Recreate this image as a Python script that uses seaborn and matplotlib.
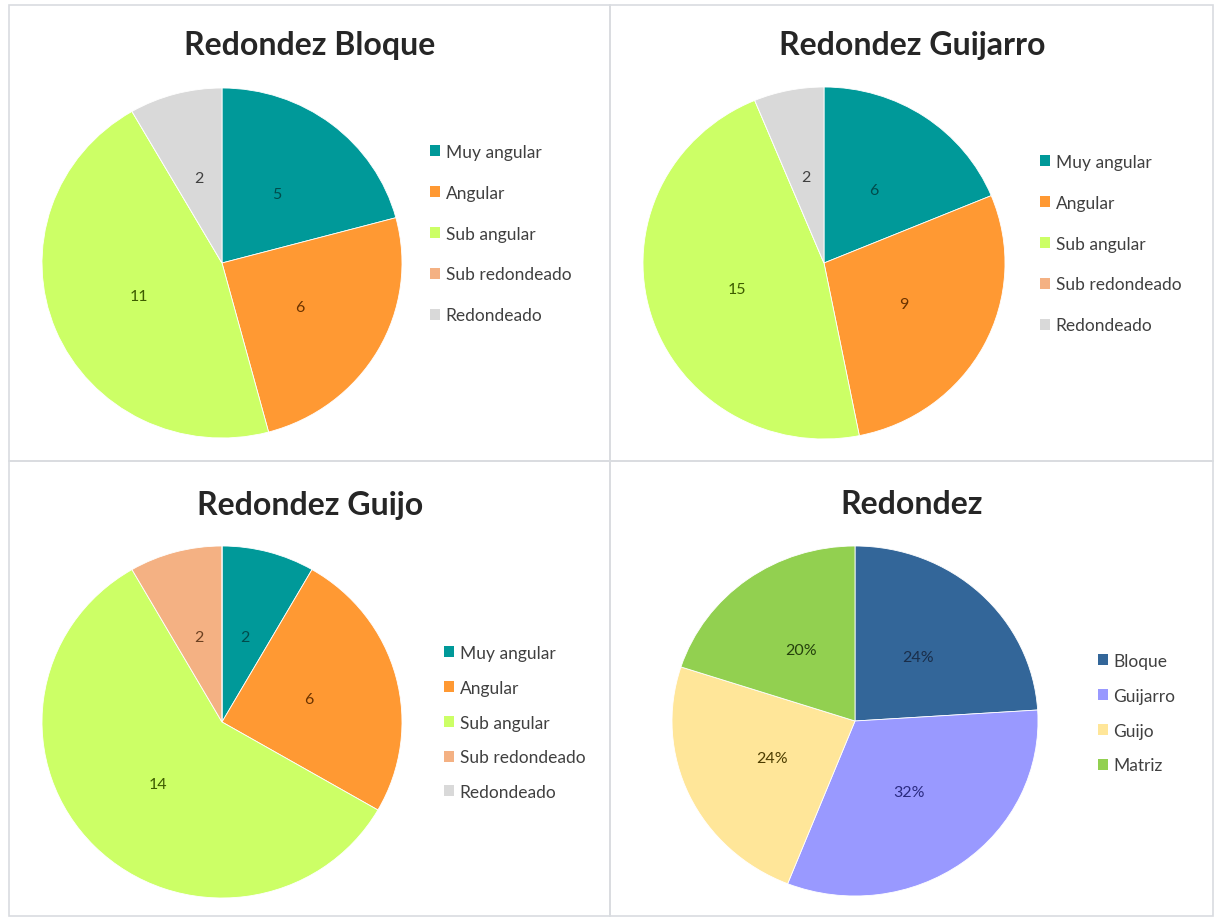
import matplotlib
matplotlib.use("Agg")
import matplotlib.pyplot as plt
import seaborn as sns
from matplotlib.patches import Rectangle

# ---------------- data ----------------
round_categories = ["Muy angular", "Angular", "Sub angular", "Sub redondeado", "Redondeado"]
bloque_values = [5, 6, 11, 0, 2]
guijarro_values = [6, 9, 15, 0, 2]
guijo_values = [2, 6, 14, 2, 0]

total_categories = ["Bloque", "Guijarro", "Guijo", "Matriz"]
total_values = [24, 32, 24, 20]

titles = ["Redondez Bloque", "Redondez Guijarro", "Redondez Guijo", "Redondez"]

round_colors = ["#009999", "#FF9933", "#CCFF66", "#F4B183", "#D9D9D9"]
round_label_colors = ["#004C4C", "#6B3300", "#3D5C00", "#6B4020", "#404040"]
total_colors = ["#336699", "#9999FF", "#FFE699", "#92D050"]
total_label_colors = ["#1A2E4A", "#2A2A80", "#4D3D00", "#24400C"]

# ---------------- style ----------------
sns.set_theme(style="white")
plt.rcParams["font.family"] = ["Lato", "DejaVu Sans"]

W, H = 1217, 920
fig = plt.figure(figsize=(W / 100, H / 100), dpi=100)
fig.patch.set_facecolor("white")

# panel borders
border_color = "#D9DCE0"
for (x0, y0, x1, y1) in [(9, 6, 610, 462), (610, 6, 1213, 462),
                         (9, 462, 610, 917), (610, 462, 1213, 917)]:
    fig.add_artist(Rectangle((x0 / W, 1 - y1 / H), (x1 - x0) / W, (y1 - y0) / H,
                             transform=fig.transFigure, fill=False,
                             edgecolor=border_color, linewidth=1.2))


def make_pie(values, labels, colors, lcolors, cx, cy, rx, ry, title, title_xy,
             legend_xy, spacing, fmt):
    ax = fig.add_axes([(cx - rx) / W, 1 - (cy + ry) / H, 2 * rx / W, 2 * ry / H])
    total = sum(values)

    def autopct(p):
        if p <= 0:
            return ""
        if fmt == "pct":
            return f"{p:.0f}%"
        return f"{round(p * total / 100):d}"

    wedges, texts, autotexts = ax.pie(
        values, colors=colors, startangle=90, counterclock=False,
        autopct=autopct, pctdistance=0.5,
        wedgeprops=dict(linewidth=0.6, edgecolor="white"),
        textprops=dict(fontsize=11.5))
    for t, c in zip(autotexts, lcolors):
        t.set_color(c)
    ax.set_xlim(-1, 1)
    ax.set_ylim(-1, 1)
    ax.set_aspect("auto")
    ax.axis("off")

    fig.text(title_xy[0] / W, 1 - title_xy[1] / H, title, ha="center", va="center",
             fontsize=23, fontweight="bold", color="#262626")

    handles = [Rectangle((0, 0), 1, 1, facecolor=c, edgecolor="none") for c in colors]
    fig.legend(handles, labels, loc="upper left",
               bbox_to_anchor=(legend_xy[0] / W, 1 - legend_xy[1] / H),
               frameon=False, fontsize=12.5, handlelength=0.6, handleheight=0.6,
               handletextpad=0.3, labelspacing=spacing, borderpad=0,
               borderaxespad=0, labelcolor="#404040")


make_pie(bloque_values, round_categories, round_colors, round_label_colors,
         222, 264, 180, 175, titles[0], (310, 45), (430, 145), 1.43, "n")
make_pie(guijarro_values, round_categories, round_colors, round_label_colors,
         824, 264, 181, 176, titles[1], (912, 45), (1040, 155), 1.43, "n")
make_pie(guijo_values, round_categories, round_colors, round_label_colors,
         222, 723, 180, 176, titles[2], (310, 505), (444, 646), 1.08, "n")
make_pie(total_values, total_categories, total_colors, total_label_colors,
         855, 722, 183, 175, titles[3], (912, 505), (1098, 654), 1.08, "pct")

fig.savefig("out.png", dpi=100, facecolor="white")
